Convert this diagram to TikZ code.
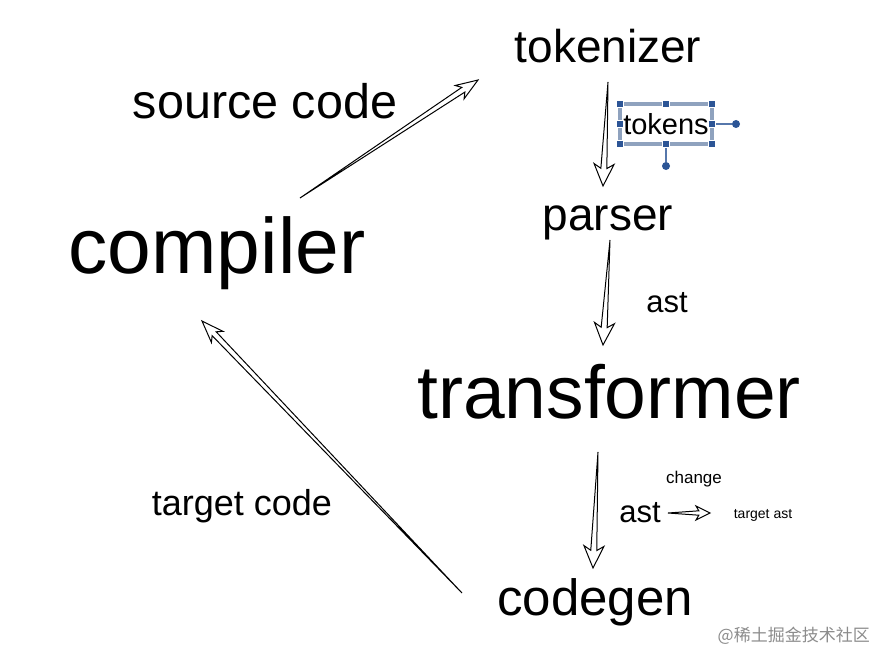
\documentclass[tikz,border=0pt]{standalone}
\usepackage{fontspec}
\setmainfont{Liberation Sans}
\newfontfamily\cjk{Noto Sans CJK SC}
\usetikzlibrary{calc}
\definecolor{hbox}{HTML}{8FA2BE}
\definecolor{hdot}{HTML}{2C5596}
\newcommand{\fs}[1]{\fontsize{#1}{#1}\selectfont}
\newcommand{\harrow}[5]{%
  \coordinate (hA) at ($(#2)!#3!(#1)$);
  \coordinate (hJ) at ($(#2)!0.8!(hA)$);
  \draw[arrowline] (#1) -- ($(hJ)!#5!90:(#2)$) -- ($(hA)!#4!90:(#2)$) -- (#2)
     -- ($(hA)!#4!-90:(#2)$) -- ($(hJ)!#5!-90:(#2)$) -- cycle;}
\tikzset{
  lbl/.style={anchor=base, inner sep=0pt, text=black},
  arrowline/.style={draw=black, fill=white, line width=1pt, line join=miter},
  handle/.style={fill=hdot, draw=white, line width=0.6pt, minimum size=7pt, inner sep=0pt, rectangle},
  knob/.style={fill=hdot, circle, minimum size=8pt, inner sep=0pt},
}
\begin{document}
\begin{tikzpicture}[x=1pt,y=-1pt]
\useasboundingbox[fill=white] (0,0) rectangle (875,650);
% labels
\node[lbl, font=\fs{46}] (tok) at (608,63) {tokenizer};
\node[lbl, font=\fs{48.5}] (src) at (265,119) {source code};
\node[lbl, font=\fs{78.5}] (comp) at (217,273) {compiler};
\node[lbl, font=\fs{46}] (pars) at (608,230) {parser};
\node[lbl, font=\fs{31}] (ast1) at (667,312) {ast};
\node[lbl, font=\fs{75}] (trans) at (609,418) {transformer};
\node[lbl, font=\fs{17}] (chg) at (694,483) {change};
\node[lbl, font=\fs{31}] (ast2) at (640,522) {ast};
\node[lbl, font=\fs{14}] (tast) at (763,518) {target ast};
\node[lbl, font=\fs{36}] (tcode) at (242,515) {target code};
\node[lbl, font=\fs{51}] (cgen) at (595,615) {codegen};
\node[anchor=base east, inner sep=0pt, text=black!45, font=\cjk\fs{17}] (wm) at (870,641) {@稀土掘金技术社区};
% tokens selection box
\draw[hbox, line width=3.5pt] (620,104) rectangle (712,144);
\node[lbl, font=\fs{29}] (tkn) at (666,135) {tokens};
\coordinate (bR) at (712,124);
\coordinate (bB) at (666,144);
\node[knob] (kR) at (736,124) {};
\node[knob] (kB) at (666,166) {};
\draw[hdot!80, line width=1.2pt] (bR) -- (kR);
\draw[hdot!80, line width=1.2pt] (bB) -- (kB);
\foreach \x/\y in {620/104,666/104,712/104,620/124,712/124,620/144,666/144,712/144}
  \node[handle] at (\x,\y) {};
% arrow endpoints
\coordinate (a1t) at (300,198); \coordinate (a1h) at (478,80);
\coordinate (a2t) at (608,82);  \coordinate (a2h) at (603,186);
\coordinate (a3t) at (610,240); \coordinate (a3h) at (603,345);
\coordinate (a4t) at (598,452); \coordinate (a4h) at (593,568);
\coordinate (a5t) at (462,593); \coordinate (a5h) at (202,321);
\coordinate (a6t) at (668,513); \coordinate (a6h) at (710,513);
\harrow{a1t}{a1h}{22pt}{8pt}{2.8pt}
\harrow{a2t}{a2h}{22pt}{10pt}{3pt}
\harrow{a3t}{a3h}{22pt}{10pt}{3pt}
\harrow{a4t}{a4h}{22pt}{10pt}{3pt}
\harrow{a5t}{a5h}{22pt}{8pt}{2.8pt}
\harrow{a6t}{a6h}{14pt}{7pt}{2.2pt}
\end{tikzpicture}
\end{document}
